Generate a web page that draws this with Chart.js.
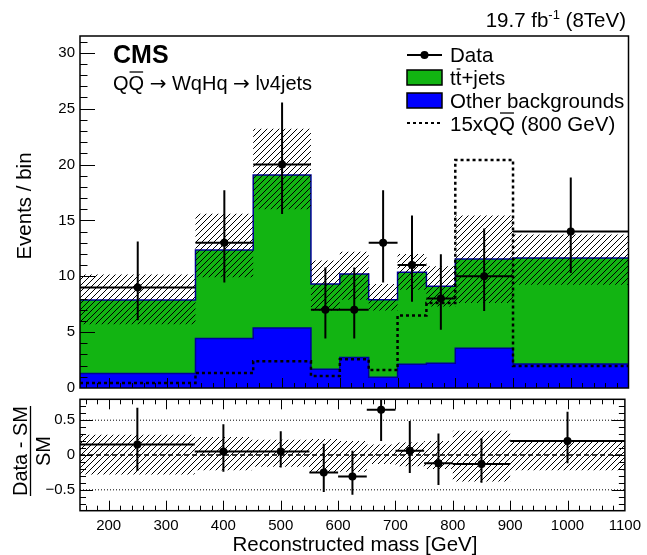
<!DOCTYPE html>
<html>
<head>
<meta charset="utf-8">
<script src="https://cdn.jsdelivr.net/npm/chart.js@4.4.1/dist/chart.umd.min.js"></script>
<style>
html, body { margin: 0; padding: 0; background: #fff; }
#wrap { position: relative; width: 647px; height: 555px; overflow: hidden; }
canvas { position: absolute; left: 0; }
#cMain { top: 0; }
#cRatio { top: 380px; }
</style>
</head>
<body>
<div id="wrap">
  <canvas id="cMain" width="647" height="410"></canvas>
  <canvas id="cRatio" width="647" height="175"></canvas>
</div>
<script>
// Bins (GeV)
const binEdges = [150, 350, 450, 550, 600, 650, 700, 750, 800, 900, 1100];

// Stacked backgrounds (events / bin)
const otherBkg  = [1.30, 4.42, 5.37, 1.68, 2.72, 0.96, 2.12, 2.21, 3.56, 2.15];
const ttbarJets = [6.58, 7.94, 13.70, 7.63, 7.48, 6.94, 8.23, 6.89, 7.99, 9.49];
// Background uncertainty band
const bkgBandLo = [5.70, 9.90, 16.00, 6.94, 7.90, 6.94, 8.80, 7.30, 7.60, 9.25];
const bkgBandHi = [10.15, 15.60, 23.20, 11.40, 12.20, 9.31, 12.00, 10.90, 15.44, 13.73];
// 15 x signal (800 GeV)
const signal15x = [0.45, 1.35, 2.39, 1.08, 2.57, 1.62, 6.49, 7.60, 20.40, 1.97];
// Data with error bar ends
const dataCounts = [9, 13, 20, 7, 7, 13, 11, 8, 10, 14];
const dataErrLo  = [6.06, 9.43, 15.56, 4.42, 4.42, 9.43, 7.72, 5.22, 6.88, 10.30];
const dataErrHi  = [13.10, 17.70, 25.55, 10.78, 10.78, 17.70, 15.43, 11.96, 14.28, 18.84];

// Ratio panel (Data - SM) / SM
const ratioVals   = [0.15, 0.05, 0.05, -0.25, -0.31, 0.65, 0.06, -0.12, -0.13, 0.20];
const ratioErrLo  = [-0.23, -0.24, -0.18, -0.53, -0.57, 0.20, -0.26, -0.43, -0.40, -0.12];
const ratioErrHi  = [0.68, 0.44, 0.34, 0.16, 0.06, 1.25, 0.49, 0.31, 0.24, 0.62];
const ratioBandLo = [-0.28, -0.22, -0.17, -0.25, -0.24, -0.13, -0.16, -0.20, -0.38, -0.22];
const ratioBandHi = [0.29, 0.26, 0.22, 0.23, 0.20, 0.15, 0.18, 0.20, 0.35, 0.19];

// Axis ticks
const xTickLabels = [200, 300, 400, 500, 600, 700, 800, 900, 1000, 1100];
const yMainTicks  = [0, 5, 10, 15, 20, 25, 30];
const yRatioTicks = [-0.5, 0, 0.5];

const totalBkg = otherBkg.map((v, i) => v + ttbarJets[i]);

Chart.defaults.font.family = '"Liberation Sans", Arial, Helvetica, sans-serif';
Chart.defaults.color = '#000';
Chart.defaults.animation = false;

const FONT = '"Liberation Sans", Arial, Helvetica, sans-serif';
const ARROW_FONT = '20px "DejaVu Sans", sans-serif';
const NONE = 'rgba(0,0,0,0)';
const GREEN = '#12b412';

function steps(vals) {
    const pts = vals.map((v, i) => ({ x: binEdges[i], y: v }));
    pts.push({ x: binEdges[binEdges.length - 1], y: vals[vals.length - 1] });
    return pts;
}

function centers(vals) {
    return vals.map((v, i) => ({ x: (binEdges[i] + binEdges[i + 1]) / 2, y: v }));
}

function errorBars(vals, lo, hi) {
    const pts = [];
    vals.forEach((v, i) => {
        const c = (binEdges[i] + binEdges[i + 1]) / 2;
        pts.push({ x: c, y: lo[i] }, { x: c, y: hi[i] }, { x: c, y: null });
        pts.push({ x: binEdges[i], y: v }, { x: binEdges[i + 1], y: v }, { x: binEdges[i + 1], y: null });
    });
    return pts;
}

function hatchPattern(ctx) {
    const s = 6;
    const c = document.createElement('canvas');
    c.width = s; c.height = s;
    const g = c.getContext('2d');
    g.strokeStyle = '#000';
    g.lineWidth = 1;
    g.beginPath();
    g.moveTo(0, s); g.lineTo(s, 0);
    g.moveTo(-1, 1); g.lineTo(1, -1);
    g.moveTo(s - 1, s + 1); g.lineTo(s + 1, s - 1);
    g.stroke();
    return ctx.createPattern(c, 'repeat');
}

// minor tick positions
const xMinor = [];
for (let v = 160; v <= 1100; v += 20) if (v % 100 !== 0) xMinor.push(v);

// ROOT-like frame with ticks drawn inside
const rootFrame = {
    id: 'rootFrame',
    afterDraw(chart, args, o) {
        const { ctx, chartArea: a, scales: { x, y } } = chart;
        ctx.save();
        ctx.strokeStyle = '#000';
        ctx.lineWidth = 1;
        ctx.beginPath();
        const xt = xTickLabels.map(v => [v, o.xMaj]).concat(xMinor.map(v => [v, o.xMin]));
        xt.forEach(([v, len]) => {
            const px = Math.round(x.getPixelForValue(v)) + 0.5;
            if (px < a.left || px > a.right) return;
            ctx.moveTo(px, a.bottom); ctx.lineTo(px, a.bottom - len);
            if (o.top) { ctx.moveTo(px, a.top); ctx.lineTo(px, a.top + len); }
        });
        for (let v = o.yMin; v <= o.yMax + 1e-9; v += o.yMinorStep) {
            const major = Math.abs(v / o.yMajorStep - Math.round(v / o.yMajorStep)) < 1e-6;
            const len = major ? o.yMaj : o.yMinLen;
            const py = Math.round(y.getPixelForValue(v)) + 0.5;
            if (py < a.top || py > a.bottom) continue;
            ctx.moveTo(a.left, py); ctx.lineTo(a.left + len, py);
            if (o.right) { ctx.moveTo(a.right, py); ctx.lineTo(a.right - len, py); }
        }
        ctx.stroke();
        ctx.lineWidth = 1.5;
        ctx.strokeRect(a.left, a.top, a.right - a.left, a.bottom - a.top);
        ctx.restore();
    }
};

// text run with optional overbars and per-part fonts
function drawBarText(ctx, parts, x, y, barOffset) {
    const base = ctx.font;
    parts.forEach(p => {
        ctx.font = p.font || base;
        ctx.fillText(p.t, x, y);
        const w = ctx.measureText(p.t).width;
        if (p.bar) {
            ctx.save();
            ctx.lineWidth = 1.3;
            ctx.beginPath();
            ctx.moveTo(x + 1, y - barOffset);
            ctx.lineTo(x + w - 1, y - barOffset);
            ctx.stroke();
            ctx.restore();
        }
        x += w;
    });
    ctx.font = base;
}

const mainText = {
    id: 'mainText',
    afterDraw(chart) {
        const ctx = chart.ctx;
        ctx.save();
        ctx.fillStyle = '#000';
        ctx.strokeStyle = '#000';
        ctx.textBaseline = 'alphabetic';
        ctx.textAlign = 'left';

        // luminosity
        const big = '20.5px ' + FONT, sup = '13px ' + FONT;
        ctx.font = big;
        const wA = ctx.measureText('19.7 fb').width;
        const wC = ctx.measureText(' (8TeV)').width;
        ctx.font = sup;
        const wB = ctx.measureText('-1').width;
        let lx = 626 - wA - wB - wC;
        ctx.font = big; ctx.fillText('19.7 fb', lx, 27); lx += wA;
        ctx.font = sup; ctx.fillText('-1', lx, 19); lx += wB;
        ctx.font = big; ctx.fillText(' (8TeV)', lx, 27);

        // CMS label
        ctx.font = 'bold 25px ' + FONT;
        ctx.fillText('CMS', 113, 63);
        ctx.font = '20px ' + FONT;
        drawBarText(ctx, [
            { t: 'Q' }, { t: 'Q', bar: true }, { t: ' ' },
            { t: '\u2192', font: ARROW_FONT }, { t: ' WqHq ' },
            { t: '\u2192', font: ARROW_FONT }, { t: ' l\u03bd4jets' }
        ], 113, 90, 18);

        // legend
        const lx0 = 407, lx1 = 442, tx = 450;
        ctx.lineWidth = 2;
        ctx.beginPath(); ctx.moveTo(lx0, 55); ctx.lineTo(lx1, 55); ctx.stroke();
        ctx.beginPath(); ctx.arc((lx0 + lx1) / 2, 55, 4, 0, Math.PI * 2); ctx.fill();
        ctx.lineWidth = 1.5;
        ctx.fillStyle = GREEN; ctx.fillRect(lx0, 70, lx1 - lx0, 15);
        ctx.strokeRect(lx0, 70, lx1 - lx0, 15);
        ctx.fillStyle = '#0000ff'; ctx.fillRect(lx0, 93, lx1 - lx0, 15);
        ctx.strokeRect(lx0, 93, lx1 - lx0, 15);
        ctx.fillStyle = '#000';
        ctx.lineWidth = 2;
        ctx.setLineDash([3, 3]);
        ctx.beginPath(); ctx.moveTo(lx0, 123); ctx.lineTo(lx1, 123); ctx.stroke();
        ctx.setLineDash([]);

        ctx.font = '20.5px ' + FONT;
        ctx.fillText('Data', tx, 62);
        drawBarText(ctx, [{ t: 't' }, { t: 't', bar: true }, { t: '+jets' }], tx, 85, 16);
        ctx.fillText('Other backgrounds', tx, 108);
        drawBarText(ctx, [{ t: '15xQ' }, { t: 'Q', bar: true }, { t: ' (800 GeV)' }], tx, 131, 18);

        // y title
        ctx.save();
        ctx.translate(25, 206);
        ctx.rotate(-Math.PI / 2);
        ctx.textAlign = 'center';
        ctx.textBaseline = 'middle';
        ctx.font = '20.5px ' + FONT;
        ctx.fillText('Events / bin', 0, 0);
        ctx.restore();
        ctx.restore();
    }
};

const ratioText = {
    id: 'ratioText',
    afterDraw(chart) {
        const ctx = chart.ctx;
        ctx.save();
        ctx.fillStyle = '#000';
        ctx.strokeStyle = '#000';
        ctx.font = '20.5px ' + FONT;
        ctx.textAlign = 'center';
        ctx.textBaseline = 'alphabetic';
        ctx.fillText('Reconstructed mass [GeV]', 355, 171);

        ctx.save();
        ctx.translate(30.5, 71);
        ctx.rotate(-Math.PI / 2);
        ctx.font = '20px ' + FONT;
        const w = ctx.measureText('Data - SM').width;
        ctx.fillText('Data - SM', 0, -4);
        ctx.fillText('SM', 0, 19);
        ctx.lineWidth = 1.3;
        ctx.beginPath(); ctx.moveTo(-w / 2, 0); ctx.lineTo(w / 2, 0); ctx.stroke();
        ctx.restore();
        ctx.restore();
    }
};

const mainCtx = document.getElementById('cMain').getContext('2d');
const ratioCtx = document.getElementById('cRatio').getContext('2d');

new Chart(mainCtx, {
    type: 'line',
    data: {
        datasets: [
            { data: centers(dataCounts), showLine: false, pointRadius: 4, pointBackgroundColor: '#000', pointBorderWidth: 0, order: 0 },
            { data: errorBars(dataCounts, dataErrLo, dataErrHi), borderColor: '#000', borderWidth: 2, pointRadius: 0, spanGaps: false, fill: false, order: 1 },
            { data: steps(signal15x), borderColor: '#000', borderWidth: 2.5, borderDash: [3, 3], stepped: true, pointRadius: 0, fill: false, order: 2 },
            { data: steps(bkgBandHi), borderColor: NONE, borderWidth: 0, stepped: true, pointRadius: 0, fill: '+1', backgroundColor: hatchPattern(mainCtx), order: 3 },
            { data: steps(bkgBandLo), borderColor: NONE, borderWidth: 0, stepped: true, pointRadius: 0, fill: false, order: 4 },
            { data: steps(otherBkg), borderColor: '#000099', borderWidth: 1.5, backgroundColor: '#0000ff', fill: 'origin', stepped: true, pointRadius: 0, order: 5 },
            { data: steps(totalBkg), borderColor: '#000099', borderWidth: 1.5, backgroundColor: GREEN, fill: 'origin', stepped: true, pointRadius: 0, order: 6 }
        ]
    },
    options: {
        responsive: false,
        animation: false,
        events: [],
        layout: { padding: { left: 0, right: 18.5, top: 36, bottom: 22 } },
        plugins: {
            legend: { display: false },
            tooltip: { enabled: false },
            rootFrame: { xMaj: 10, xMin: 5, yMaj: 15, yMinLen: 7.5, yMin: 0, yMax: 31.5, yMinorStep: 1, yMajorStep: 5, top: false, right: false }
        },
        scales: {
            x: { type: 'linear', min: 150, max: 1100, display: false },
            y: {
                min: 0, max: 31.5,
                grid: { display: false, drawTicks: false },
                border: { display: false },
                ticks: { font: { size: 15 }, padding: 5, color: '#000' },
                afterBuildTicks: s => { s.ticks = yMainTicks.map(v => ({ value: v })); },
                afterFit: s => { s.width = 80; }
            }
        }
    },
    plugins: [rootFrame, mainText]
});

new Chart(ratioCtx, {
    type: 'line',
    data: {
        datasets: [
            { data: centers(ratioVals), showLine: false, pointRadius: 4, pointBackgroundColor: '#000', pointBorderWidth: 0, order: 0 },
            { data: errorBars(ratioVals, ratioErrLo, ratioErrHi), borderColor: '#000', borderWidth: 2, pointRadius: 0, spanGaps: false, fill: false, order: 1 },
            { data: [{ x: 150, y: 0 }, { x: 1100, y: 0 }], borderColor: '#000', borderWidth: 1.5, borderDash: [5, 3], pointRadius: 0, fill: false, order: 2 },
            { data: [{ x: 150, y: 0.5 }, { x: 1100, y: 0.5 }], borderColor: '#000', borderWidth: 1, borderDash: [1, 2], pointRadius: 0, fill: false, order: 3 },
            { data: [{ x: 150, y: -0.5 }, { x: 1100, y: -0.5 }], borderColor: '#000', borderWidth: 1, borderDash: [1, 2], pointRadius: 0, fill: false, order: 4 },
            { data: steps(ratioBandHi), borderColor: NONE, borderWidth: 0, stepped: true, pointRadius: 0, fill: '+1', backgroundColor: hatchPattern(ratioCtx), order: 5 },
            { data: steps(ratioBandLo), borderColor: NONE, borderWidth: 0, stepped: true, pointRadius: 0, fill: false, order: 6 }
        ]
    },
    options: {
        responsive: false,
        animation: false,
        events: [],
        layout: { padding: { left: 0, right: 18.5, top: 19.3, bottom: 0 } },
        plugins: {
            legend: { display: false },
            tooltip: { enabled: false },
            rootFrame: { xMaj: 10, xMin: 5, yMaj: 13, yMinLen: 6, yMin: -0.8, yMax: 0.8, yMinorStep: 0.1, yMajorStep: 0.5, top: true, right: true }
        },
        scales: {
            x: {
                type: 'linear', min: 150, max: 1100,
                grid: { display: false, drawTicks: false },
                border: { display: false },
                ticks: { font: { size: 15 }, padding: 6, autoSkip: false, maxRotation: 0, color: '#000', callback: v => String(v) },
                afterBuildTicks: s => { s.ticks = xTickLabels.map(v => ({ value: v })); },
                afterFit: s => { s.height = 44.3; }
            },
            y: {
                min: -0.8, max: 0.8,
                grid: { display: false, drawTicks: false },
                border: { display: false },
                ticks: { font: { size: 15 }, padding: 5, color: '#000', callback: v => (v < 0 ? '\u2212' + String(-v) : String(v)) },
                afterBuildTicks: s => { s.ticks = yRatioTicks.map(v => ({ value: v })); },
                afterFit: s => { s.width = 80; }
            }
        }
    },
    plugins: [rootFrame, ratioText]
});
</script>
</body>
</html>
